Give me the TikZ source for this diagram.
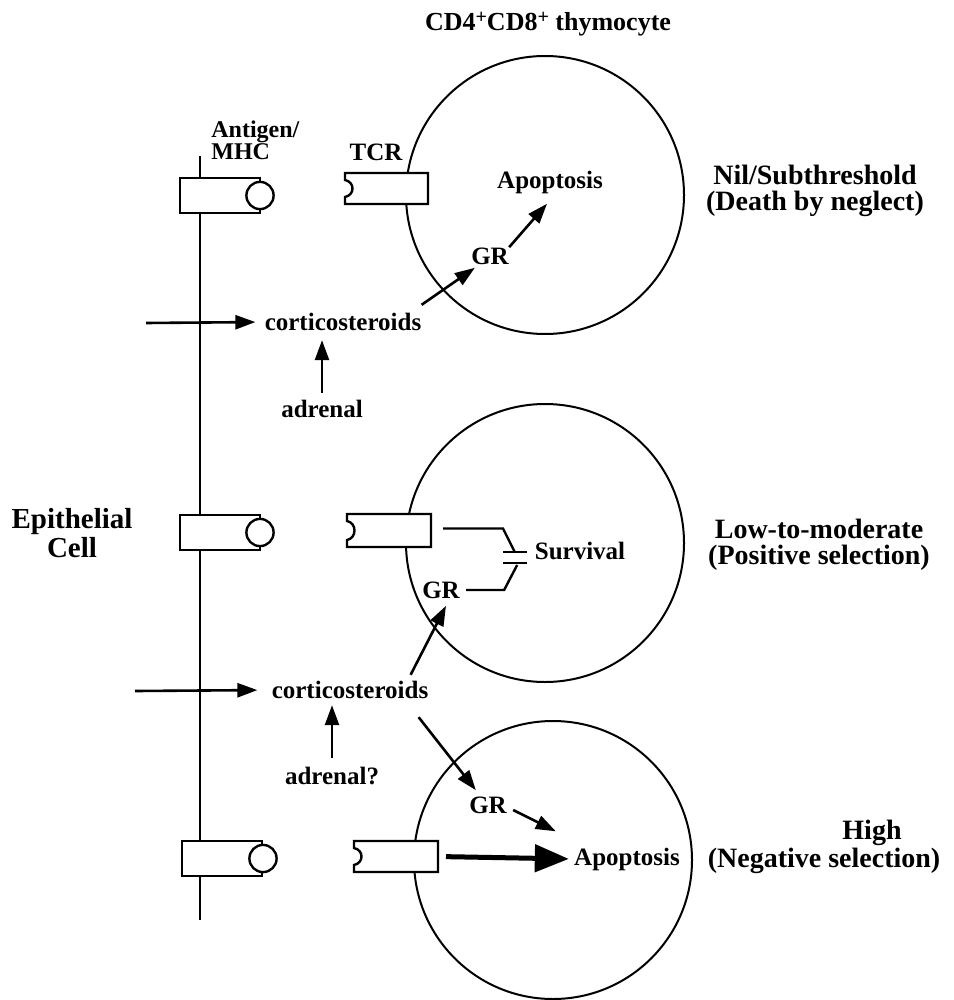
\documentclass[tikz,border=0pt]{standalone}
\usepackage{fontspec}
\setmainfont{Liberation Serif}
\usetikzlibrary{arrows.meta,positioning,calc}

\newcommand{\plussup}{\raisebox{0.55ex}{\fontsize{10}{10}\selectfont +}}

\tikzset{
  lbl/.style={font=\bfseries\fontsize{12.5}{13}\selectfont, inner sep=0pt},
  side/.style={font=\bfseries\fontsize{14}{12.8}\selectfont, align=center, inner sep=0pt},
  cell/.style={draw, circle, line width=1pt, minimum size=139pt, inner sep=0pt},
  part/.style={draw, fill=white, line width=1.2pt},
  arr/.style={-{Triangle[length=10pt,width=7pt]}, line width=1.3pt},
  bigarr/.style={-{Triangle[length=17pt,width=13.5pt]}, line width=2.5pt}
}

\begin{document}
\begin{tikzpicture}[x=0.5pt,y=-0.5pt]
    \useasboundingbox (0,0) rectangle (953,1000);

    % Thymocytes
    \node[cell] (cell1) at (545,195) {};
    \node[cell] (cell2) at (545,543) {};
    \node[cell] (cell3) at (553,860) {};
    \node[lbl, font=\bfseries\fontsize{13}{13}\selectfont] (title) at (548,24) {CD4\plussup CD8\plussup\ thymocyte};

    % TCR
    \draw[part] (428,173) -- (345,173) -- (345,180) .. controls (355,182) and (355,195) .. (345,197) -- (345,204) -- (428,204) -- cycle;
    \draw[part] (431,514) -- (347,514) -- (347,521) .. controls (357,523) and (357,538) .. (347,540) -- (347,547) -- (431,547) -- cycle;
    \draw[part] (438,841) -- (354,841) -- (354,848) .. controls (364,850) and (364,863) .. (354,865) -- (354,872) -- (438,872) -- cycle;
    \coordinate (tcr1) at (428,188.5);
    \coordinate (tcr2) at (431,530.5);
    \coordinate (tcr3) at (438,856.5);
    \node[lbl] (tcr) at (376,152) {TCR};

    % Epithelial cell with antigen/MHC
    \draw[line width=1pt] (200,156) -- (200,920);
    \draw[part] (180,178) rectangle (260,213);
    \draw[part] (260,195.5) circle[radius=6.8pt];
    \draw[part] (180,515) rectangle (260,550);
    \draw[part] (260,532.5) circle[radius=6.8pt];
    \draw[part] (182,841) rectangle (262,876);
    \draw[part] (263,858.5) circle[radius=6.8pt];
    \node[lbl, align=left, anchor=north west, font=\bfseries\fontsize{12}{11}\selectfont] (agmhc) at (211,120) {Antigen/\\MHC};
    \node[side, font=\bfseries\fontsize{14.5}{12}\selectfont] (epi) at (72,533) {Epithelial\\Cell};

    % Nil/Subthreshold
    \node[lbl] (apop1) at (550,182) {Apoptosis};
    \node[lbl] (gr1) at (490,256) {GR};
    \node[lbl] (cort1) at (343,322) {corticosteroids};
    \node[lbl] (adr1) at (322,409) {adrenal};
    \coordinate (in1) at (146,323);
    \draw[arr, shorten >=4.5pt] (in1) -- (cort1.west);
    \draw[arr, shorten <=3.5pt, shorten >=4.5pt] (adr1.north) -- (adr1.north |- cort1.south);
    \draw[arr] ([shift={(0,-8)}]cort1.north east) -- ([shift={(4,3)}]gr1.south west);
    \draw[arr] (gr1.north east) -- ([shift={(-3,10)}]apop1.south);
    \node[side] (nil) at (815,191) {Nil/Subthreshold\\(Death by neglect)};

    % Low-to-moderate
    \node[lbl] (gr2) at (441,590) {GR};
    \node[lbl] (surv) at (580,551) {Survival};
    \node[lbl] (cort2) at (350,690) {corticosteroids};
    \node[lbl] (adr2) at (332,776) {adrenal?};
    \coordinate (syn) at (515,557.5);
    \draw[line width=1.2pt] (tcr2) ++(12,-2) -- ++(60,0) -- ++(12,24);
    \draw[line width=1.2pt] ([shift={(-12,-5.5)}]syn) -- ++(24,0);
    \draw[line width=1.2pt] ([shift={(-12,5.5)}]syn) -- ++(24,0);
    \draw[line width=1.2pt] ([xshift=3pt]gr2.east) -- ++(38,0) -- ++(13,-25);
    \coordinate (in2) at (135,691);
    \draw[arr, shorten >=7pt] (in2) -- (cort2.west);
    \draw[arr, shorten <=4.5pt, shorten >=3pt] (adr2.north) -- (adr2.north |- cort2.south);
    \draw[arr] ([shift={(-18,-6)}]cort2.north east) -- ([shift={(5,7)}]gr2.south);
    \node[side] (low) at (819,545) {Low-to-moderate\\(Positive selection)};

    % High
    \node[lbl] (gr3) at (488,805) {GR};
    \node[lbl] (apop3) at (627,859) {Apoptosis};
    \draw[arr] ([shift={(-10,18)}]cort2.south east) -- ([shift={(7,-6)}]gr3.north west);
    \draw[arr] ([shift={(6,5)}]gr3.east) -- ([shift={(-18,-16)}]apop3.north west);
    \draw[bigarr, shorten <=4pt, shorten >=2.5pt] (tcr3) -- (apop3.west);
    \node[side] (high) at (872,833) {High};
    \node[side] (neg) at (824,861) {(Negative selection)};
\end{tikzpicture}
\end{document}
